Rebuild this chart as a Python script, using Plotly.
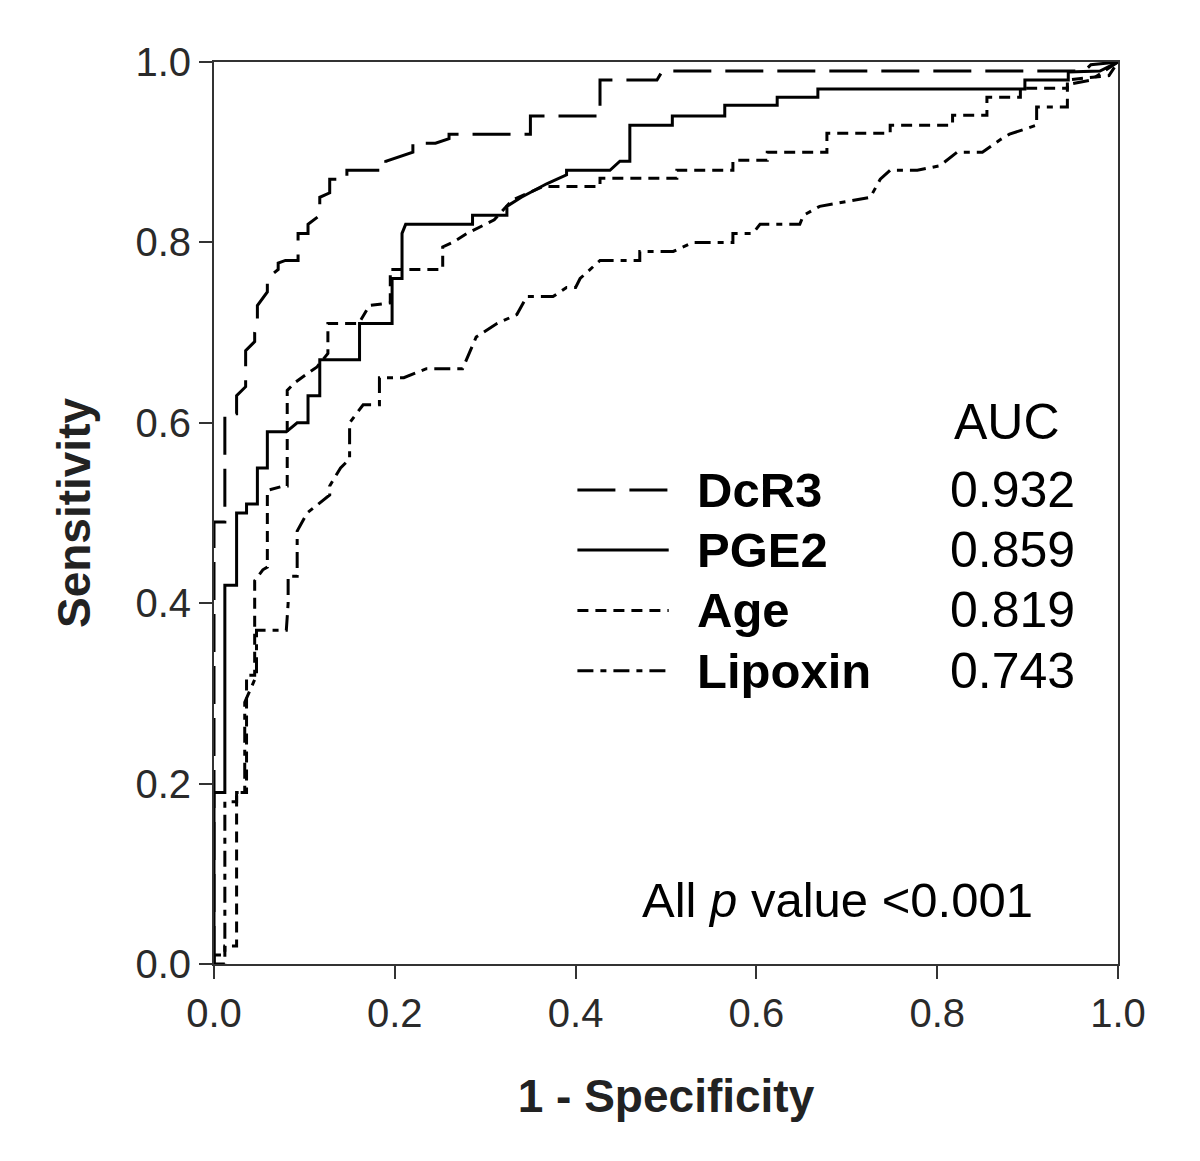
import plotly.graph_objects as go

# ---- data (1 - specificity, sensitivity) ----
dcr3_fpr = [0, 0, 0.012, 0.012, 0.025, 0.025, 0.035, 0.035, 0.045, 0.045, 0.048, 0.048,
            0.059, 0.059, 0.071, 0.071, 0.079, 0.093, 0.093, 0.104, 0.104, 0.117, 0.117,
            0.128, 0.128, 0.147, 0.147, 0.186, 0.19, 0.19, 0.22, 0.22, 0.245, 0.26, 0.26,
            0.345, 0.35, 0.35, 0.427, 0.427, 0.49, 0.496, 0.944, 0.963, 0.97, 1.0]
dcr3_tpr = [0, 0.49, 0.49, 0.61, 0.61, 0.63, 0.64, 0.68, 0.69, 0.70, 0.71, 0.73,
            0.745, 0.76, 0.77, 0.777, 0.78, 0.78, 0.81, 0.81, 0.82, 0.83, 0.85,
            0.855, 0.87, 0.87, 0.88, 0.88, 0.88, 0.89, 0.90, 0.91, 0.91, 0.915, 0.92,
            0.92, 0.92, 0.94, 0.94, 0.98, 0.98, 0.99, 0.99, 0.99, 0.997, 1.0]

pge2_fpr = [0, 0, 0.012, 0.012, 0.025, 0.025, 0.036, 0.036, 0.048, 0.048, 0.059, 0.059,
            0.08, 0.092, 0.104, 0.104, 0.117, 0.117, 0.161, 0.161, 0.197, 0.197, 0.208,
            0.208, 0.212, 0.286, 0.286, 0.324, 0.324, 0.34, 0.368, 0.39, 0.39, 0.438,
            0.449, 0.46, 0.46, 0.507, 0.507, 0.565, 0.565, 0.623, 0.623, 0.668, 0.668,
            0.897, 0.897, 0.945, 0.945, 0.98, 1.0]
pge2_tpr = [0, 0.19, 0.19, 0.42, 0.42, 0.50, 0.50, 0.51, 0.51, 0.55, 0.55, 0.59,
            0.59, 0.60, 0.60, 0.63, 0.63, 0.67, 0.67, 0.71, 0.71, 0.76, 0.76,
            0.81, 0.82, 0.82, 0.83, 0.83, 0.84, 0.85, 0.865, 0.875, 0.88, 0.88,
            0.89, 0.89, 0.93, 0.93, 0.94, 0.94, 0.952, 0.952, 0.961, 0.961, 0.97,
            0.97, 0.98, 0.98, 0.989, 0.99, 1.0]

age_fpr = [0, 0.012, 0.012, 0.025, 0.025, 0.036, 0.036, 0.045, 0.045, 0.054,
           0.059, 0.059, 0.077, 0.081, 0.081, 0.09, 0.104, 0.114, 0.126, 0.126,
           0.16, 0.172, 0.195, 0.195, 0.253, 0.253, 0.264, 0.28, 0.31, 0.33,
           0.364, 0.427, 0.427, 0.512, 0.512, 0.574, 0.574, 0.612, 0.612, 0.678,
           0.678, 0.748, 0.748, 0.817, 0.817, 0.855, 0.855, 0.892, 0.892, 0.944,
           0.944, 0.99, 1.0]
age_tpr = [0, 0, 0.02, 0.02, 0.19, 0.19, 0.32, 0.32, 0.425, 0.437,
           0.44, 0.525, 0.53, 0.53, 0.636, 0.645, 0.655, 0.662, 0.677, 0.71,
           0.71, 0.73, 0.733, 0.77, 0.77, 0.795, 0.80, 0.81, 0.825, 0.847,
           0.862, 0.862, 0.871, 0.871, 0.88, 0.88, 0.891, 0.891, 0.90, 0.90,
           0.921, 0.921, 0.93, 0.93, 0.941, 0.941, 0.961, 0.961, 0.971, 0.971,
           0.98, 0.985, 1.0]

lipoxin_fpr = [0, 0, 0.012, 0.012, 0.025, 0.025, 0.034, 0.034, 0.047, 0.047, 0.08,
               0.082, 0.082, 0.092, 0.092, 0.103, 0.128, 0.128, 0.14, 0.15, 0.15,
               0.165, 0.183, 0.183, 0.21, 0.235, 0.275, 0.29, 0.313, 0.335, 0.346,
               0.375, 0.39, 0.40, 0.405, 0.427, 0.471, 0.471, 0.508, 0.53, 0.574,
               0.574, 0.596, 0.604, 0.648, 0.652, 0.67, 0.726, 0.737, 0.748, 0.778,
               0.803, 0.822, 0.85, 0.87, 0.88, 0.91, 0.91, 0.944, 0.944, 0.97, 1.0]
lipoxin_tpr = [0, 0.01, 0.01, 0.18, 0.18, 0.19, 0.19, 0.29, 0.32, 0.37, 0.37,
               0.40, 0.43, 0.43, 0.48, 0.50, 0.52, 0.53, 0.55, 0.56, 0.60,
               0.62, 0.62, 0.65, 0.65, 0.66, 0.66, 0.695, 0.71, 0.72, 0.74,
               0.74, 0.75, 0.75, 0.76, 0.78, 0.78, 0.79, 0.79, 0.80, 0.80,
               0.81, 0.81, 0.82, 0.82, 0.83, 0.84, 0.85, 0.87, 0.88, 0.88,
               0.885, 0.90, 0.90, 0.914, 0.92, 0.93, 0.95, 0.95, 0.975, 0.98, 1.0]

series_names = ["DcR3", "PGE2", "Age", "Lipoxin"]
auc_values = ["0.932", "0.859", "0.819", "0.743"]
tick_vals = [0.0, 0.2, 0.4, 0.6, 0.8, 1.0]

dash_styles = ["38px,14px", "solid", "11px,7px", "16px,7px,6px,7px"]
curves = [(dcr3_fpr, dcr3_tpr), (pge2_fpr, pge2_tpr), (age_fpr, age_tpr),
          (lipoxin_fpr, lipoxin_tpr)]

FONT = "Arial, Liberation Sans, sans-serif"

fig = go.Figure()
for name, (fx, ty), dash in zip(series_names, curves, dash_styles):
    fig.add_trace(go.Scatter(x=fx, y=ty, mode="lines", name=name,
                             line=dict(color="black", width=3, dash=dash),
                             showlegend=False))

# legend block (drawn in data coordinates of the plot area)
leg_y = [0.5255, 0.459, 0.392, 0.325]
for name, auc, dash, yy in zip(series_names, auc_values, dash_styles, leg_y):
    fig.add_shape(type="line", x0=0.402, x1=0.503, y0=yy, y1=yy, xref="x", yref="y",
                  line=dict(color="black", width=3, dash=dash))
    fig.add_annotation(x=0.532, y=yy, xref="x", yref="y", text="<b>%s</b>" % name,
                       showarrow=False, xanchor="left", yanchor="middle",
                       font=dict(family=FONT, size=49, color="black"))
    fig.add_annotation(x=0.812, y=yy, xref="x", yref="y", text=auc,
                       showarrow=False, xanchor="left", yanchor="middle",
                       font=dict(family=FONT, size=50, color="black"))

fig.add_annotation(x=0.877, y=0.601, xref="x", yref="y", text="AUC", showarrow=False,
                   xanchor="center", yanchor="middle",
                   font=dict(family=FONT, size=50, color="black"))
fig.add_annotation(x=0.69, y=0.071, xref="x", yref="y",
                   text="All <i>p</i> value &lt;0.001", showarrow=False,
                   xanchor="center", yanchor="middle",
                   font=dict(family=FONT, size=49, color="black"))

axis_common = dict(range=[0, 1], tickvals=tick_vals, tickformat=".1f",
                   showgrid=False, zeroline=False, showline=True, mirror=True,
                   linecolor="#333333", linewidth=2, ticks="outside", ticklen=13,
                   tickwidth=2, tickcolor="#333333",
                   tickfont=dict(family=FONT, size=40, color="#2a2a2a"))

fig.update_xaxes(**axis_common,
                 title=dict(text="<b>1 - Specificity</b>", standoff=46,
                            font=dict(family=FONT, size=46, color="#222222")))
fig.update_yaxes(**axis_common,
                 title=dict(text="<b>Sensitivity</b>", standoff=30,
                            font=dict(family=FONT, size=46, color="#222222")))

fig.update_layout(width=1200, height=1161, plot_bgcolor="white", paper_bgcolor="white",
                  margin=dict(l=206, r=90, t=54, b=205, autoexpand=False))

fig.write_html("out.html")
